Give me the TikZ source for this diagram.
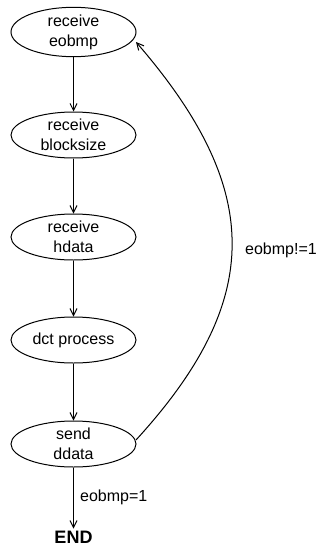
\documentclass[tikz,border=0pt]{standalone}
\usepackage{fontspec}
\setmainfont{Liberation Sans}
\usetikzlibrary{shapes.geometric,arrows.meta}
\begin{document}
\begin{tikzpicture}[x=1pt,y=-1pt,
  state/.style={ellipse,draw,line width=1pt,minimum width=125pt,minimum height=46pt,inner sep=0pt,align=center,font=\fontsize{16}{20}\selectfont},
  lbl/.style={font=\fontsize{16}{20}\selectfont,inner sep=0pt},
  arr/.style={line width=1pt,-{Straight Barb[length=7pt,width=7pt,line width=1pt]}}]
\useasboundingbox (0,0) rectangle (320,546);
\node[state] (s1) at (73.5,32) {receive\\eobmp};
\node[state] (s2) at (73.5,135) {receive\\blocksize};
\node[state] (s3) at (73.5,237) {receive\\hdata};
\node[state] (s4) at (73.5,340) {dct process};
\node[state] (s5) at (73.5,444) {send\\ddata};
\node[font=\fontsize{18}{20}\selectfont\bfseries,inner sep=2pt] (end) at (73.5,537) {END};
\draw[arr] (s1) -- (s2);
\draw[arr] (s2) -- (s3);
\draw[arr] (s3) -- (s4);
\draw[arr] (s4) -- (s5);
\draw[arr] (s5) -- (end);
\node[lbl,anchor=west] (l1) at (80,497) {eobmp=1};
\coordinate (a) at (136,440);
\coordinate (b) at (136,42);
\draw[arr] (a) .. controls (264,300) and (264,190) .. (b);
\node[lbl,anchor=west] (l2) at (245,250) {eobmp!=1};
\end{tikzpicture}
\end{document}
